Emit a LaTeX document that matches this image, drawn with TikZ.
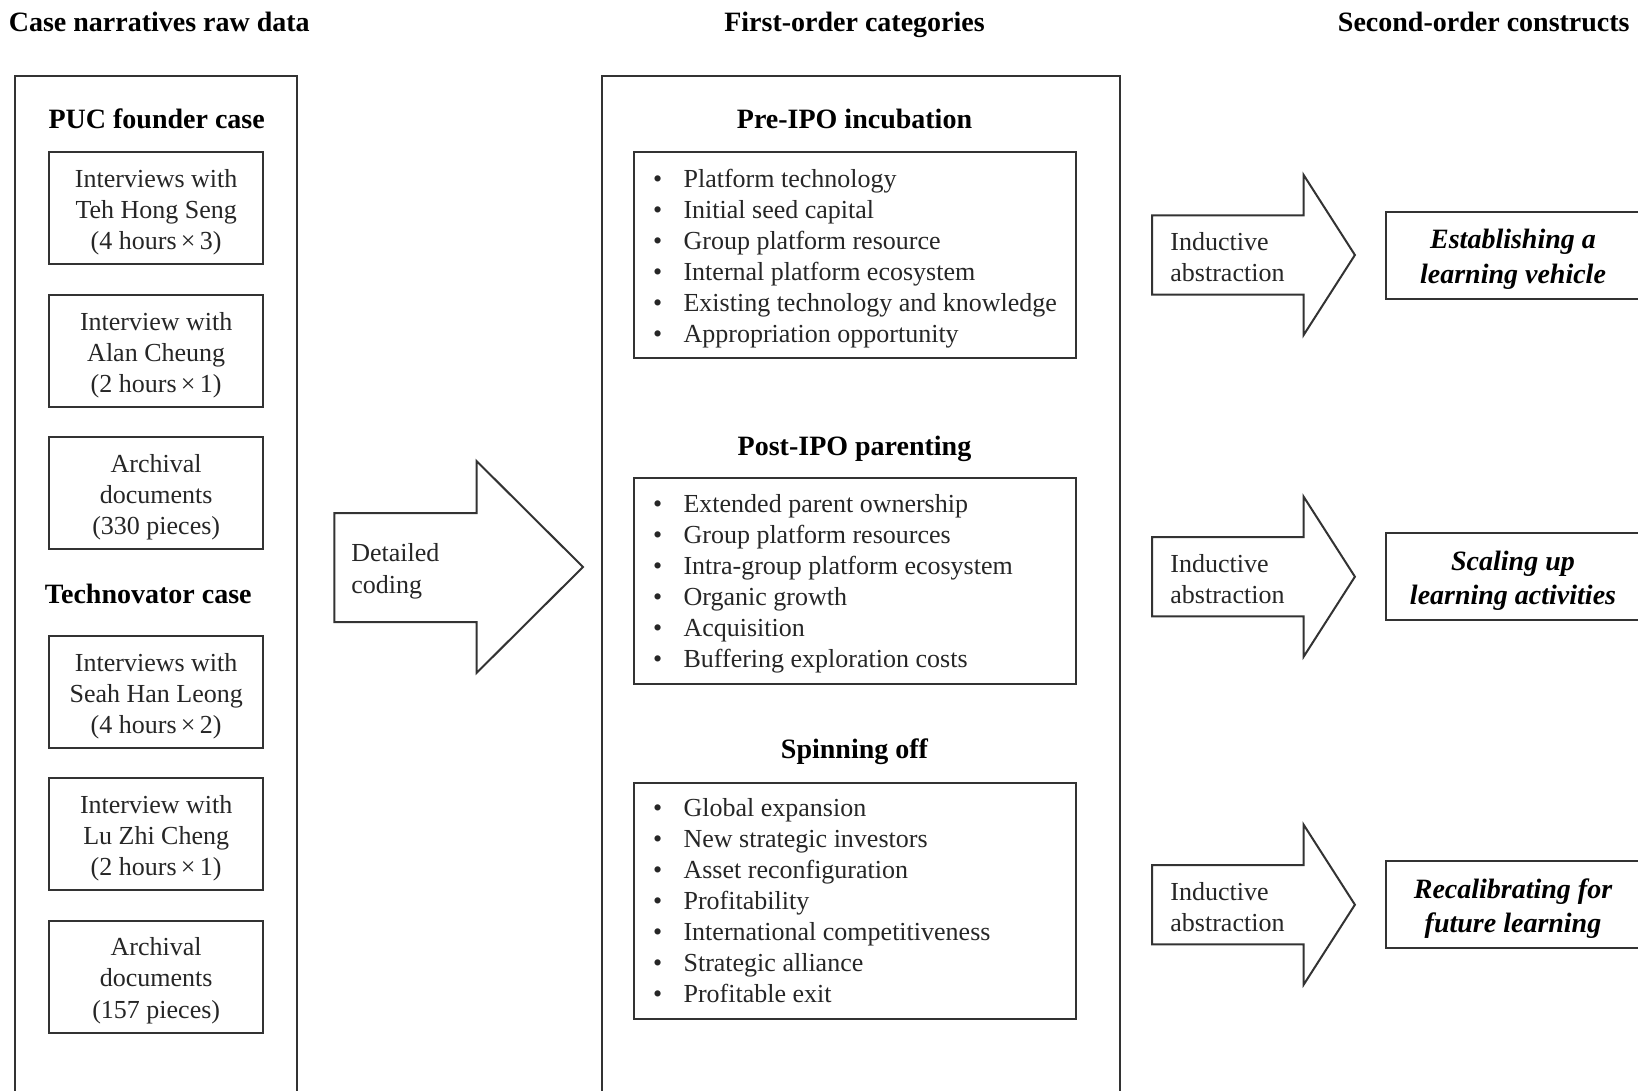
\documentclass[tikz,border=0pt]{standalone}
\usepackage{fontspec}
\setmainfont{Liberation Serif}
\newcommand\nrmtxt{\fontsize{13}{15.55}\selectfont}
\newcommand\hdtxt{\fontsize{14}{17}\selectfont\bfseries}
\newcommand\cnstxt{\fontsize{14}{17.2}\selectfont\bfseries\itshape}
\newcommand\bul{\makebox[15.25pt][l]{\textbullet}}
\begin{document}
\begin{tikzpicture}[x=0.5pt,y=-0.5pt,
  frame/.style={draw=black!80, line width=1pt, line join=miter},
  smallbox/.style={frame, minimum width=107pt, minimum height=56pt, inner sep=0pt},
  boxtext/.style={inner sep=0pt, align=center, font=\nrmtxt, text=black!85},
  listbox/.style={frame, minimum width=221pt, inner sep=0pt},
  listtext/.style={anchor=west, inner sep=0pt, align=left, font=\nrmtxt, text=black!85},
  heading/.style={inner sep=0pt, anchor=base, font=\hdtxt, text=black},
  cbox/.style={frame, minimum width=127pt, minimum height=43.4pt, inner sep=0pt},
  ctext/.style={inner sep=0pt, align=center, font=\cnstxt, text=black},
  arrtext/.style={anchor=west, inner sep=0pt, align=left, font=\nrmtxt, text=black!85}]
\useasboundingbox (0,0) rectangle (1638,1091);
\fill[white] (0,0) rectangle (1638,1091);
\clip (0,0) rectangle (1638,1091);

% column titles
\node[heading, anchor=base west] (t1) at (8.4,31.4) {Case narratives raw data};
\node[heading] (t2) at (854.5,31.4) {First-order categories};
\node[heading, anchor=base east] (t3) at (1630,31.4) {Second-order constructs};

% left column
\draw[frame] (14.6,1110) -- (14.6,76.3) -- (296.7,76.3) -- (296.7,1110);
\node[heading] (puc) at (156.7,128.5) {PUC founder case};
\node[heading] (tec) at (148.3,603.8) {Technovator case};
\foreach \n/\c/\t in {1/208.4/{Interviews with\\Teh Hong Seng\\(4 hours\,×\,3)},
                      2/351/{Interview with\\Alan Cheung\\(2 hours\,×\,1)},
                      3/493/{Archival\\documents\\(330 pieces)},
                      4/692/{Interviews with\\Seah Han Leong\\(4 hours\,×\,2)},
                      5/834/{Interview with\\Lu Zhi Cheng\\(2 hours\,×\,1)},
                      6/976.7/{Archival\\documents\\(157 pieces)}}{
  \node[smallbox] (l\n) at (156.2,\c) {};
  \node[boxtext] (lt\n) at (156.2,\c+4) {\t};
}

% detailed coding arrow
\draw[frame] (334.3,513) -- (476.5,513) -- (476.5,461) -- (583,567) -- (476.5,673) -- (476.5,622) -- (334.3,622) -- cycle;
\node[arrtext] (dc) at (351,571.3) {Detailed\\coding};

% middle column
\draw[frame] (601.7,1110) -- (601.7,76.3) -- (1119.8,76.3) -- (1119.8,1110);
\node[heading] (h1) at (854.5,128.5) {Pre-IPO incubation};
\node[listbox, minimum height=102.9pt] (ba) at (855,255.4) {};
\node[listtext] (la) at (652.7,258.5) {\bul Platform technology\\\bul Initial seed capital\\\bul Group platform resource\\\bul Internal platform ecosystem\\\bul Existing technology and knowledge\\\bul Appropriation opportunity};
\node[heading] (h2) at (854.5,455.5) {Post-IPO parenting};
\node[listbox, minimum height=102.9pt] (bb) at (855,581.3) {};
\node[listtext] (lb) at (652.7,583.8) {\bul Extended parent ownership\\\bul Group platform resources\\\bul Intra-group platform ecosystem\\\bul Organic growth\\\bul Acquisition\\\bul Buffering exploration costs};
\node[heading] (h3) at (854.5,758.4) {Spinning off};
\node[listbox, minimum height=118pt] (bc) at (855,900.5) {};
\node[listtext] (lc) at (652.7,900.5) {\bul Global expansion\\\bul New strategic investors\\\bul Asset reconfiguration\\\bul Profitability\\\bul International competitiveness\\\bul Strategic alliance\\\bul Profitable exit};

% inductive arrows
\foreach \c/\n in {255/1, 576.7/2, 904.7/3}{
  \draw[frame] (1152.2,\c-39.7) -- (1303.7,\c-39.7) -- (1303.7,\c-79.9) -- (1354.9,\c) -- (1303.7,\c+79.9) -- (1303.7,\c+39.7) -- (1152.2,\c+39.7) -- cycle;
  \node[arrtext] (ia\n) at (1170,\c+2) {Inductive\\abstraction};
}

% constructs
\node[cbox] (c1) at (1513,255.4) {};
\node[ctext] (ct1) at (1513,259.4) {Establishing a\\learning vehicle};
\node[cbox] (c2) at (1513,576.7) {};
\node[ctext] (ct2) at (1513,580.7) {Scaling up\\learning activities};
\node[cbox] (c3) at (1513,904.7) {};
\node[ctext] (ct3) at (1513,908.7) {Recalibrating for\\future learning};
\end{tikzpicture}
\end{document}
